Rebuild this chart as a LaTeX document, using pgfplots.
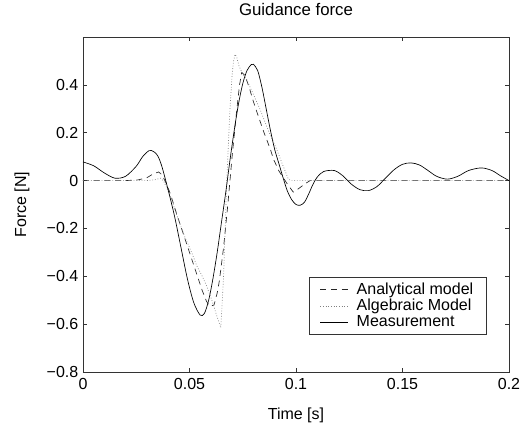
\documentclass[border=0pt]{standalone}
\usepackage{fontspec}
\setmainfont{Liberation Sans}
\usepackage{pgfplots}
\pgfplotsset{compat=1.18}

\begin{document}
\begin{tikzpicture}
\begin{axis}[
    scale only axis,
    width=319.5pt,
    height=251.25pt,
    xmin=0, xmax=0.2,
    ymin=-0.8, ymax=0.6,
    xtick={0,0.05,0.1,0.15,0.2},
    xticklabels={0,0.05,0.1,0.15,0.2},
    ytick={-0.8,-0.6,-0.4,-0.2,0,0.2,0.4,0.6},
    yticklabels={−0.8,−0.6,−0.4,−0.2,0,0.2,0.4,},
    tick align=inside,
    major tick length=3pt,
    axis line style={black!80, line width=0.5pt},
    every tick/.style={black!80, line width=0.5pt},
    tick label style={font=\fontsize{12}{14}\selectfont},
    xticklabel style={yshift=-1.5pt},
    label style={font=\fontsize{12}{14}\selectfont},
    title style={font=\fontsize{12.6}{14}\selectfont, yshift=6.5pt},
    xlabel style={at={(axis description cs:0.5,-0.1284)}, anchor=center},
    ylabel style={at={(axis description cs:-0.1432,0.5)}, anchor=center},
    title={Guidance force},
    xlabel={Time [s]},
    ylabel={Force [N]},
    legend style={at={(axis description cs:0.948,0.113)}, anchor=south east,
        draw=black!80, fill=white, font=\fontsize{12}{14}\selectfont,
        row sep=-2pt, inner xsep=8pt, inner ysep=2pt},
    legend cell align=left,
    legend image code/.code={\draw[#1] (0pt,0pt) -- (21pt,0pt);\path (25pt,0pt);},
]
% Analytical model (dashed)
\addplot[black!85, line width=0.5pt, dash pattern=on 4.5pt off 3.5pt] coordinates {
(0,0) (0.020,0) (0.026,0.003) (0.030,0.012) (0.033,0.028) (0.0355,0.036)
(0.037,0.025) (0.039,-0.010) (0.041,-0.055) (0.044,-0.140) (0.047,-0.220)
(0.050,-0.300) (0.053,-0.380) (0.056,-0.460) (0.058,-0.505) (0.0595,-0.525)
(0.0605,-0.523) (0.0615,-0.520) (0.063,-0.470) (0.064,-0.420) (0.066,-0.280)
(0.068,-0.100) (0.070,0.100) (0.072,0.280) (0.0735,0.400) (0.0745,0.452)
(0.076,0.440) (0.078,0.390) (0.080,0.330) (0.0815,0.290) (0.085,0.200)
(0.088,0.130) (0.0894,0.090) (0.092,0.040) (0.0956,-0.010) (0.0987,-0.048)
(0.101,-0.035) (0.104,-0.015) (0.1066,0) (0.110,0) (0.2,0)
};
% Algebraic model (dotted)
\addplot[black!50, line width=0.5pt, dash pattern=on 0.6pt off 1.4pt] coordinates {
(0,0) (0.030,0) (0.034,0.004) (0.0365,0.010) (0.038,-0.005) (0.040,-0.045)
(0.042,-0.090) (0.045,-0.170) (0.048,-0.240) (0.051,-0.300) (0.0534,-0.356)
(0.056,-0.400) (0.058,-0.440) (0.0605,-0.500) (0.063,-0.570) (0.0647,-0.615)
(0.0660,-0.400) (0.0675,0.000) (0.069,0.300) (0.0700,0.440) (0.0707,0.500)
(0.0714,0.528) (0.0722,0.515) (0.0732,0.480) (0.0750,0.445) (0.0768,0.423)
(0.080,0.360) (0.0831,0.298) (0.087,0.210) (0.0909,0.131) (0.094,0.060)
(0.0964,0.006) (0.0977,0) (0.2,0)
};
% Measurement (solid)
\addplot[black, line width=0.5pt, smooth] coordinates {
(0.000,0.078) (0.005,0.062) (0.010,0.032) (0.015,0.010) (0.020,0.018)
(0.025,0.060) (0.028,0.100) (0.031,0.125) (0.033,0.122) (0.035,0.105)
(0.037,0.060) (0.040,-0.040) (0.043,-0.150) (0.046,-0.280) (0.049,-0.410)
(0.052,-0.510) (0.055,-0.562) (0.057,-0.555) (0.059,-0.500) (0.061,-0.410)
(0.063,-0.300) (0.065,-0.175) (0.067,-0.050) (0.069,0.085) (0.071,0.210)
(0.073,0.320) (0.075,0.405) (0.077,0.460) (0.079,0.485) (0.080,0.486)
(0.082,0.460) (0.084,0.390) (0.086,0.300) (0.088,0.210) (0.090,0.130)
(0.092,0.070) (0.094,0.010) (0.096,-0.045) (0.098,-0.080) (0.100,-0.100)
(0.102,-0.103) (0.104,-0.090) (0.106,-0.055) (0.108,-0.015) (0.110,0.015)
(0.113,0.038) (0.118,0.042) (0.122,0.020) (0.126,-0.015) (0.130,-0.038)
(0.134,-0.042) (0.138,-0.025) (0.142,0.010) (0.146,0.045) (0.150,0.068)
(0.154,0.074) (0.158,0.065) (0.162,0.042) (0.166,0.018) (0.171,0.006)
(0.176,0.018) (0.181,0.042) (0.187,0.053) (0.192,0.042) (0.196,0.020)
(0.200,0.000)
};
\legend{Analytical model, Algebraic Model, Measurement}
\end{axis}
\pgfresetboundingbox
\path[use as bounding box] (-62.25pt,-43.5pt) rectangle (330.75pt,279pt);
\end{tikzpicture}
\end{document}
